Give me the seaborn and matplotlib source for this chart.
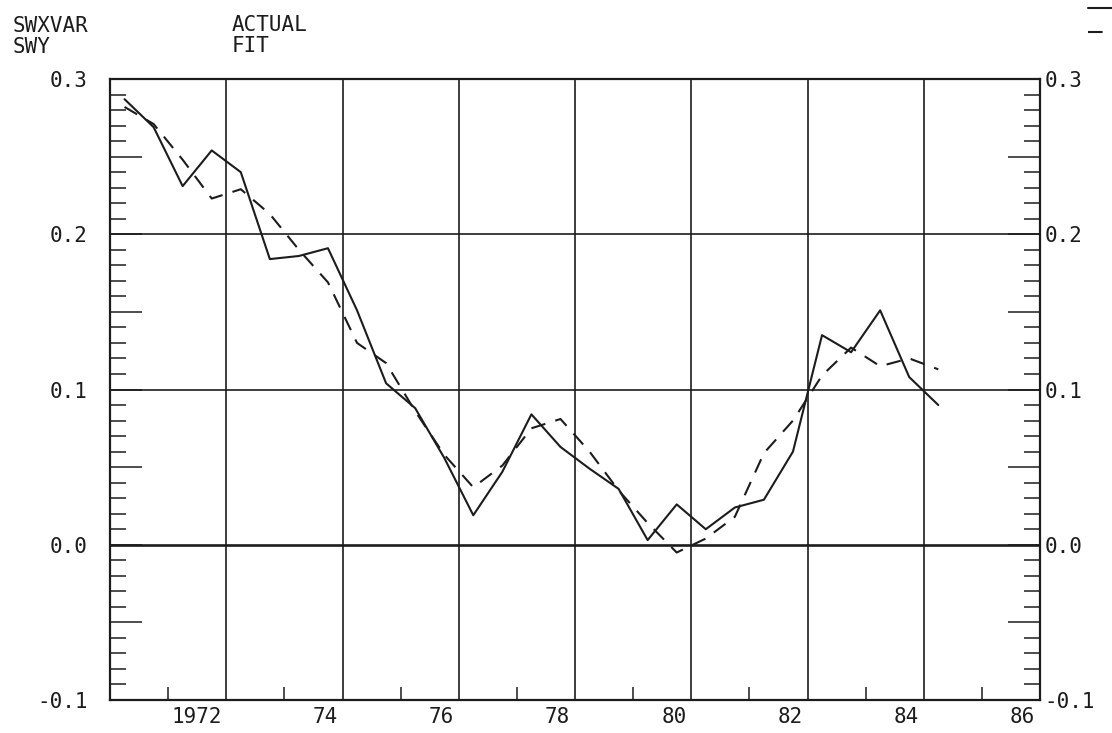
import numpy as np
import pandas as pd
import seaborn as sns
from matplotlib import pyplot as plt
from matplotlib.lines import Line2D
from matplotlib.ticker import MultipleLocator, FixedLocator

# semi-annual observations, 1971H1 .. 1985H1
years = 1971.25 + 0.5 * np.arange(29)
actual = [0.287, 0.269, 0.231, 0.254, 0.240, 0.184, 0.186, 0.191, 0.151, 0.104,
          0.088, 0.056, 0.019, 0.047, 0.084, 0.063, 0.049, 0.036, 0.003, 0.026,
          0.010, 0.024, 0.029, 0.060, 0.135, 0.124, 0.151, 0.108, 0.090]
fit = [0.282, 0.271, 0.248, 0.223, 0.229, 0.213, 0.190, 0.169, 0.130, 0.117,
       0.086, 0.058, 0.037, 0.051, 0.075, 0.081, 0.060, 0.035, 0.014, -0.005,
       0.004, 0.018, 0.059, 0.080, 0.109, 0.127, 0.115, 0.120, 0.113]

year_labels = ['1972', '74', '76', '78', '80', '82', '84', '86']
label_ends = [1973, 1975, 1977, 1979, 1981, 1983, 1985, 1987]
even_ticks = [1972, 1974, 1976, 1978, 1980, 1982, 1984, 1986]
grid_years = [1973, 1975, 1977, 1979, 1981, 1983, 1985]
grid_levels = [0.1, 0.2]
y_major = [-0.1, -0.05, 0.0, 0.05, 0.1, 0.15, 0.2, 0.25, 0.3]
y_labels = ['-0.1', '', '0.0', '', '0.1', '', '0.2', '', '0.3']

df = pd.DataFrame({
    'year': np.concatenate([years, years]),
    'value': actual + fit,
    'series': ['ACTUAL'] * len(actual) + ['FIT'] * len(fit),
})

sns.set_style('white')
plt.rcParams['font.family'] = ['DejaVu Sans Mono', 'DejaVu Sans']
ink = '#1c1c1c'

fig = plt.figure(figsize=(11.12, 7.33), dpi=100)
ax = fig.add_axes([110 / 1112, 1 - 700 / 733, 930 / 1112, 621 / 733])

sns.lineplot(data=df, x='year', y='value', style='series',
             dashes={'ACTUAL': '', 'FIT': (7, 5)}, color=ink, lw=1.5,
             legend=False, ax=ax)

for yr in grid_years:
    ax.axvline(yr, color=ink, lw=1.2, zorder=1)
for lv in grid_levels:
    ax.axhline(lv, color=ink, lw=1.2, zorder=1)
ax.axhline(0.0, color=ink, lw=1.9, zorder=1)

ax.set_xlim(1971, 1987)
ax.set_ylim(-0.1, 0.3)
ax.set_xlabel('')
ax.set_ylabel('')
for s in ax.spines.values():
    s.set_color(ink)
    s.set_linewidth(1.6)

# x axis: labels sit just left of the odd-year lines, short ticks at even years
ax.xaxis.set_major_locator(FixedLocator([e - 0.08 for e in label_ends]))
ax.set_xticklabels(year_labels, fontsize=15, color=ink)
plt.setp(ax.get_xticklabels(), ha='right')
ax.xaxis.set_minor_locator(FixedLocator(even_ticks))
ax.tick_params(axis='x', which='major', length=0, pad=5)
ax.tick_params(axis='x', which='minor', direction='in', length=9.5,
               width=1.1, color=ink, bottom=True, top=False)

# y axis: long ticks at .05, short ticks every .01, both sides
ax2 = ax.twinx()
ax2.set_ylim(-0.1, 0.3)
for a, side in [(ax, 'left'), (ax2, 'right')]:
    a.yaxis.set_major_locator(FixedLocator(y_major))
    a.set_yticklabels(y_labels, fontsize=15, color=ink)
    a.yaxis.set_minor_locator(MultipleLocator(0.01))
    a.tick_params(axis='y', which='major', direction='in', length=23,
                  width=1.1, color=ink, pad=16 if side == 'left' else 3,
                  left=(side == 'left'), right=(side == 'right'),
                  labelleft=(side == 'left'), labelright=(side == 'right'))
    a.tick_params(axis='y', which='minor', direction='in', length=11.5,
                  width=1.1, color=ink,
                  left=(side == 'left'), right=(side == 'right'))
for s in ax2.spines.values():
    s.set_visible(False)

fig.text(13 / 1112, 1 - 16 / 733, 'SWXVAR', fontsize=15, color=ink, va='top')
fig.text(13 / 1112, 1 - 37 / 733, 'SWY', fontsize=15, color=ink, va='top')
fig.text(232 / 1112, 1 - 15 / 733, 'ACTUAL', fontsize=15, color=ink, va='top')
fig.text(232 / 1112, 1 - 36 / 733, 'FIT', fontsize=15, color=ink, va='top')

keys = [Line2D([], [], color=ink, lw=1.5),
        Line2D([], [], color=ink, lw=1.5, dashes=(7, 5))]
fig.legend(keys, ['', ''], loc='upper left', bbox_to_anchor=(1080 / 1112, 1.012),
           frameon=False, handlelength=4, labelspacing=0.4, borderpad=0,
           handletextpad=0, fontsize=12)

fig.savefig('out.png', dpi=100)
